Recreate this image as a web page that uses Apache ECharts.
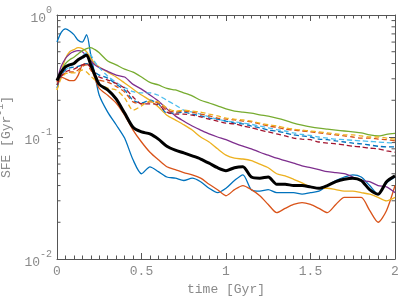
<!DOCTYPE html>
<html><head><meta charset="utf-8">
<script src="https://cdn.jsdelivr.net/npm/echarts@6/dist/echarts.min.js"></script>
<style>html,body{margin:0;padding:0;background:#fff;}#c{width:407px;height:305px;}</style>
</head><body><div id="c"></div>
<script>
const times = [0,0.025,0.05,0.075,0.1,0.125,0.15,0.175,0.2,0.225,0.25,
  0.3,0.35,0.4,0.45,0.5,0.55,0.6,0.65,0.7,0.75,0.8,0.85,0.9,0.95,1.0,
  1.05,1.1,1.15,1.2,1.25,1.3,1.35,1.4,1.45,1.5,1.55,1.6,1.65,1.7,1.75,1.8,1.85,1.9,1.95,2.0];

const blueSolid = [0.60,0.72,0.77,0.74,0.69,0.62,0.60,0.69,0.47,0.32,0.22,
  0.16,0.126,0.098,0.065,0.050,0.057,0.052,0.047,0.046,0.044,0.046,0.043,0.038,0.035,0.038,
  0.044,0.049,0.037,0.036,0.037,0.035,0.035,0.035,0.034,0.035,0.036,0.040,0.044,0.047,0.049,0.047,0.040,0.034,0.042,0.047];
const orangeSolid = [0.28,0.31,0.30,0.29,0.29,0.32,0.39,0.40,0.37,0.30,0.25,
  0.22,0.19,0.151,0.114,0.091,0.075,0.065,0.057,0.054,0.051,0.049,0.046,0.041,0.037,0.033,
  0.037,0.040,0.037,0.033,0.028,0.024,0.026,0.028,0.029,0.028,0.026,0.024,0.028,0.032,0.032,0.032,0.025,0.020,0.025,0.040];
const yellowSolid = [0.243,0.34,0.44,0.50,0.52,0.54,0.53,0.50,0.44,0.40,0.375,
  0.34,0.31,0.277,0.247,0.221,0.20,0.176,0.151,0.138,0.126,0.114,0.100,0.091,0.080,0.071,
  0.067,0.066,0.064,0.060,0.056,0.050,0.048,0.045,0.042,0.039,0.038,0.038,0.037,0.036,0.036,0.035,0.034,0.032,0.030,0.032];
const purpleSolid = [0.29,0.38,0.44,0.48,0.50,0.51,0.50,0.46,0.42,0.39,0.37,
  0.345,0.322,0.31,0.27,0.247,0.221,0.197,0.17,0.149,0.135,0.123,0.114,0.106,0.10,0.095,
  0.089,0.084,0.080,0.075,0.071,0.067,0.064,0.061,0.058,0.056,0.054,0.052,0.051,0.050,0.047,0.044,0.043,0.040,0.039,0.035];
const greenSolid = [0.267,0.34,0.40,0.43,0.45,0.48,0.51,0.53,0.54,0.52,0.49,
  0.42,0.39,0.36,0.34,0.31,0.28,0.267,0.25,0.243,0.23,0.217,0.20,0.19,0.18,0.17,
  0.163,0.16,0.157,0.152,0.148,0.143,0.137,0.13,0.125,0.121,0.118,0.116,0.114,0.112,0.11,0.108,0.104,0.102,0.105,0.107];
const lightBlueDashed = [0.267,0.32,0.354,0.375,0.40,0.43,0.46,0.49,0.47,0.41,0.37,
  0.315,0.28,0.255,0.235,0.23,0.23,0.22,0.20,0.183,0.166,0.16,0.154,0.146,0.14,0.135,
  0.133,0.13,0.127,0.123,0.119,0.115,0.112,0.108,0.105,0.103,0.10,0.098,0.096,0.095,0.094,0.093,0.092,0.091,0.090,0.089];
const blueDashed = [0.252,0.32,0.354,0.368,0.375,0.38,0.39,0.40,0.375,0.34,0.322,
  0.304,0.27,0.243,0.20,0.19,0.20,0.187,0.157,0.157,0.16,0.154,0.149,0.143,0.14,0.135,
  0.13,0.128,0.123,0.119,0.114,0.112,0.108,0.104,0.102,0.10,0.096,0.095,0.093,0.091,0.089,0.088,0.086,0.084,0.083,0.083];
const orangeDashed = [0.282,0.315,0.335,0.341,0.341,0.354,0.38,0.39,0.354,0.315,0.293,
  0.282,0.26,0.234,0.194,0.187,0.194,0.19,0.166,0.16,0.163,0.16,0.154,0.149,0.143,0.14,
  0.138,0.135,0.133,0.128,0.123,0.12,0.116,0.114,0.112,0.11,0.108,0.106,0.104,0.102,0.10,0.098,0.098,0.096,0.095,0.093];
const yellowDashed = [0.243,0.304,0.33,0.335,0.335,0.341,0.354,0.341,0.315,0.293,0.27,
  0.252,0.243,0.209,0.166,0.18,0.197,0.194,0.173,0.163,0.166,0.163,0.16,0.154,0.149,0.143,
  0.14,0.138,0.135,0.13,0.126,0.123,0.119,0.116,0.114,0.112,0.11,0.108,0.106,0.104,0.104,0.102,0.10,0.10,0.098,0.096];
const redDashed = [0.267,0.315,0.341,0.354,0.36,0.375,0.39,0.40,0.37,0.335,0.31,
  0.293,0.275,0.252,0.213,0.187,0.187,0.183,0.16,0.154,0.154,0.151,0.146,0.14,0.135,0.13,
  0.128,0.123,0.119,0.114,0.11,0.106,0.102,0.098,0.096,0.095,0.091,0.089,0.088,0.086,0.084,0.083,0.081,0.08,0.077,0.075];
const blackMean = [0.29,0.34,0.375,0.39,0.40,0.43,0.45,0.47,0.39,0.32,0.27,
  0.243,0.205,0.157,0.12,0.11,0.106,0.096,0.084,0.078,0.074,0.07,0.066,0.061,0.056,0.053,
  0.056,0.057,0.047,0.046,0.047,0.041,0.041,0.040,0.040,0.039,0.038,0.040,0.043,0.045,0.046,0.044,0.037,0.034,0.043,0.048];

const xTickLabels = ['0','0.5','1','1.5','2'];
const yMinorTicks = [0.02,0.03,0.04,0.05,0.06,0.07,0.08,0.09,0.2,0.3,0.4,0.5,0.6,0.7,0.8,0.9];

function pairs(vals){ return times.map((t,i)=>[t, vals[i]]); }

const axisColor = '#555';
const labelColor = '#8a8a8a';
const font = 'Liberation Mono';

function xAxisDef(pos, showLabel){
  return {
    type:'value', position:pos, min:0, max:2, interval:0.5,
    axisLine:{show:true, onZero:false, lineStyle:{color:axisColor, width:1}},
    axisTick:{show:true, inside:true, length:6, lineStyle:{color:axisColor}},
    minorTick:{show:true, splitNumber:10, length:3.5, lineStyle:{color:axisColor}},
    splitLine:{show:false}, minorSplitLine:{show:false},
    axisLabel:{show:showLabel, margin:6, color:labelColor, fontFamily:font, fontSize:13,
      formatter:v=>xTickLabels[Math.round(v/0.5)]},
    name: showLabel ? 'time [Gyr]' : '', nameLocation:'middle', nameGap:23,
    nameTextStyle:{color:labelColor, fontFamily:font, fontSize:13, verticalAlign:'top'}
  };
}
function yAxisDef(pos, showLabel){
  return {
    type:'log', logBase:10, position:pos, min:0.01, max:1,
    axisLine:{show:true, onZero:false, lineStyle:{color:axisColor, width:1}},
    axisTick:{show:true, inside:true, length:6, lineStyle:{color:axisColor}},
    splitLine:{show:false},
    axisLabel:{show:showLabel, margin:5, color:labelColor, fontFamily:font,
      formatter:v=>'{b|10}{s|'+Math.round(Math.log10(v))+'}',
      rich:{
        b:{fontFamily:font, fontSize:13, color:labelColor, verticalAlign:'bottom', lineHeight:20},
        s:{fontFamily:font, fontSize:10, color:labelColor, verticalAlign:'top', lineHeight:12}
      }},
    name: showLabel ? '{n|SFE [Gyr}{s|-1}{n|]}' : '', nameLocation:'middle', nameGap:36,
    nameTextStyle:{color:labelColor, fontFamily:font,
      rich:{
        n:{fontFamily:font, fontSize:13, color:labelColor, verticalAlign:'bottom', lineHeight:18},
        s:{fontFamily:font, fontSize:10, color:labelColor, verticalAlign:'top', lineHeight:12}
      }}
  };
}

function lineSeries(vals, color, dashed, width){
  return {type:'line', data:pairs(vals), showSymbol:false, symbol:'none', smooth:0.25,
    xAxisIndex:0, yAxisIndex:0, silent:true,
    lineStyle:{color:color, width:width||1.3, type: dashed ? [5,3] : 'solid'}};
}

const chart = echarts.init(document.getElementById('c'), null, {renderer:'canvas'});
chart.setOption({
  animation:false,
  backgroundColor:'#fff',
  grid:{left:57, right:12, top:15, bottom:46, containLabel:false, outerBoundsMode:'none'},
  xAxis:[xAxisDef('bottom', true), xAxisDef('top', false)],
  yAxis:[yAxisDef('left', true), yAxisDef('right', false)],
  series:[
    lineSeries(blueSolid, '#0072BD'),
    lineSeries(orangeSolid, '#D95319'),
    lineSeries(yellowSolid, '#EDB120'),
    lineSeries(purpleSolid, '#7E2F8E'),
    lineSeries(greenSolid, '#77AC30'),
    lineSeries(lightBlueDashed, '#4DBEEE', true),
    lineSeries(blueDashed, '#0072BD', true),
    lineSeries(orangeDashed, '#D95319', true),
    lineSeries(yellowDashed, '#EDB120', true),
    lineSeries(redDashed, '#A2142F', true),
    lineSeries(blackMean, '#000000', false, 3),
    {
      type:'custom', xAxisIndex:0, yAxisIndex:0, silent:true, clip:false,
      data: yMinorTicks.map(v=>[0, v]),
      renderItem:function(params, api){
        const v = api.value(1);
        const pL = api.coord([0, v]);
        const pR = api.coord([2, v]);
        const st = {stroke:axisColor, lineWidth:1};
        return {type:'group', children:[
          {type:'line', shape:{x1:pL[0], y1:pL[1], x2:pL[0]+3.5, y2:pL[1]}, style:st},
          {type:'line', shape:{x1:pR[0], y1:pR[1], x2:pR[0]-3.5, y2:pR[1]}, style:st}
        ]};
      }
    }
  ]
});
</script></body></html>
